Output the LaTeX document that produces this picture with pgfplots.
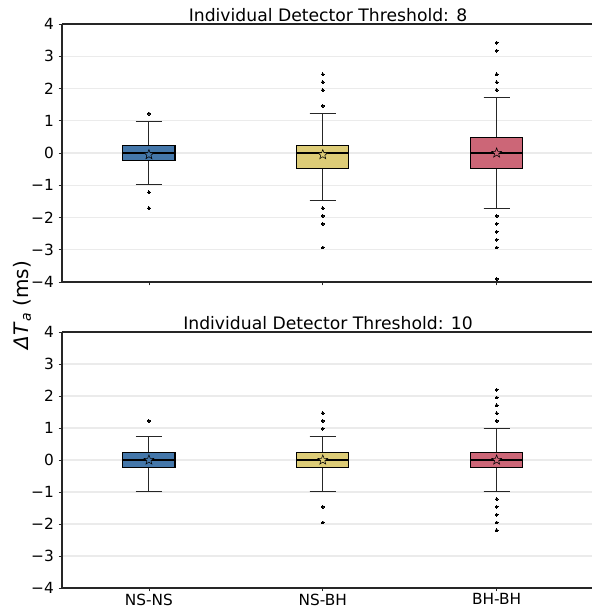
\documentclass[border=0pt]{standalone}
\usepackage{fontspec}
\setmainfont{DejaVu Sans}
\usepackage{pgfplots}
\pgfplotsset{compat=1.18}
\usepgfplotslibrary{statistics}
\definecolor{tolblue}{HTML}{4477AA}
\definecolor{tolyellow}{HTML}{DDCC77}
\definecolor{tolred}{HTML}{CC6677}

% five-pointed star for the mean
\pgfdeclareplotmark{mstar}{%
  \pgfpathmoveto{\pgfpointpolar{90}{\pgfplotmarksize}}%
  \pgfpathlineto{\pgfpointpolar{126}{0.42\pgfplotmarksize}}%
  \pgfpathlineto{\pgfpointpolar{162}{\pgfplotmarksize}}%
  \pgfpathlineto{\pgfpointpolar{198}{0.42\pgfplotmarksize}}%
  \pgfpathlineto{\pgfpointpolar{234}{\pgfplotmarksize}}%
  \pgfpathlineto{\pgfpointpolar{270}{0.42\pgfplotmarksize}}%
  \pgfpathlineto{\pgfpointpolar{306}{\pgfplotmarksize}}%
  \pgfpathlineto{\pgfpointpolar{342}{0.42\pgfplotmarksize}}%
  \pgfpathlineto{\pgfpointpolar{18}{\pgfplotmarksize}}%
  \pgfpathlineto{\pgfpointpolar{54}{0.42\pgfplotmarksize}}%
  \pgfpathclose\pgfusepathqfillstroke}

\pgfplotsset{
  panel/.style={
    anchor=south west, scale only axis,
    width=399pt,
    xmin=-0.5, xmax=2.56, ymin=-4, ymax=4,
    axis x line*=box, axis y line*=left,
    xtick pos=bottom, ytick pos=left,
    xtick={0,1,2},
    ytick={-4,-3,-2,-1,0,1,2,3,4},
    yticklabels={−4,−3,−2,−1,0,1,2,3,4},
    tick align=outside, major tick length=2.6pt,
    axis line style={black!85, line width=0.8pt},
    tick style={black!85, line width=0.6pt},
    ymajorgrids, major grid style={black!8, line width=0.8pt},
    tick label style={font=\fontsize{11.5}{13}\selectfont},
    xticklabel style={inner sep=1.5pt},
    title style={font=\fontsize{12.9}{15}\selectfont, at={(0.5,1)}, anchor=base, yshift=-4pt},
    boxplot/draw direction=y,
    boxplot/box extend=0.3,
    boxplot/whisker extend=0.15,
    boxplot/every box/.style={line width=0.8pt},
    boxplot/every whisker/.style={black!85, line width=0.8pt},
    boxplot/every median/.style={black, line width=1.4pt},
    boxplot/every average/.style={/tikz/mark=mstar, /tikz/mark size=3.8pt, /tikz/fill=white, /tikz/draw=black, /tikz/line width=0.7pt},
  },
  bx/.style={draw=black, fill=#1, mark=*, mark size=1.1pt,
    mark options={fill=black, draw=black, line width=0pt}},
}

\begin{document}
\begin{tikzpicture}
\path[use as bounding box] (0,0) rectangle (444pt,455.25pt);

% threshold 8
\begin{axis}[panel, at={(46.5pt,243.75pt)}, height=193.5pt,
    xticklabels={}, title={Individual Detector Threshold: 8}]
\addplot[bx=tolblue, boxplot prepared={draw position=0, median=0, average=-0.05,
    lower quartile=-0.244, upper quartile=0.244,
    lower whisker=-0.977, upper whisker=0.977}]
  coordinates {(0,1.221) (0,-1.221) (0,-1.709)};
\addplot[bx=tolyellow, boxplot prepared={draw position=1, median=0, average=-0.05,
    lower quartile=-0.488, upper quartile=0.244,
    lower whisker=-1.465, upper whisker=1.221}]
  coordinates {(1,1.465) (1,1.953) (1,2.197) (1,2.441)
               (1,-1.709) (1,-1.953) (1,-2.197) (1,-2.930)};
\addplot[bx=tolred, boxplot prepared={draw position=2, median=0, average=0,
    lower quartile=-0.488, upper quartile=0.488,
    lower whisker=-1.709, upper whisker=1.709}]
  coordinates {(2,1.953) (2,2.197) (2,2.441) (2,3.174) (2,3.418)
               (2,-1.953) (2,-2.197) (2,-2.441) (2,-2.686) (2,-2.930) (2,-3.906)};
\end{axis}

% threshold 10
\begin{axis}[panel, at={(46.5pt,14.25pt)}, height=192pt,
    xticklabels={NS-NS,NS-BH,BH-BH}, title={Individual Detector Threshold: 10}]
\addplot[bx=tolblue, boxplot prepared={draw position=0, median=0, average=0,
    lower quartile=-0.244, upper quartile=0.244,
    lower whisker=-0.977, upper whisker=0.732}]
  coordinates {(0,1.221)};
\addplot[bx=tolyellow, boxplot prepared={draw position=1, median=0, average=0,
    lower quartile=-0.244, upper quartile=0.244,
    lower whisker=-0.977, upper whisker=0.732}]
  coordinates {(1,0.977) (1,1.221) (1,1.465) (1,-1.465) (1,-1.953)};
\addplot[bx=tolred, boxplot prepared={draw position=2, median=0, average=0,
    lower quartile=-0.244, upper quartile=0.244,
    lower whisker=-0.977, upper whisker=0.977}]
  coordinates {(2,1.221) (2,1.465) (2,1.709) (2,1.953) (2,2.197)
               (2,-1.221) (2,-1.465) (2,-1.709) (2,-1.953) (2,-2.197)};
\end{axis}

\node[rotate=90, font=\fontsize{15}{17}\selectfont] at (16.5pt,226.5pt)
  {\textit{ΔT}\textsubscript{\textit{a}} (ms)};
\end{tikzpicture}
\end{document}
